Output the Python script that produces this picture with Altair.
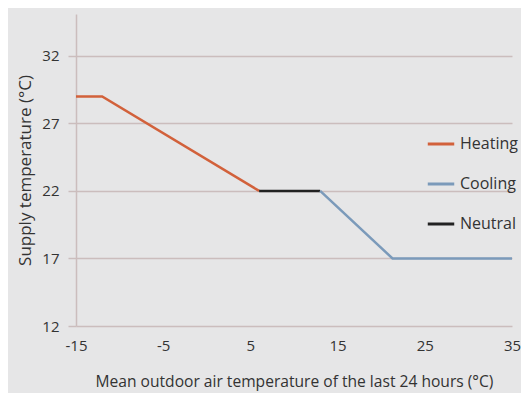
import altair as alt
import pandas as pd

series = ["Heating", "Heating", "Heating", "Neutral", "Neutral", "Cooling", "Cooling", "Cooling"]
outdoor = [-15, -12, 6, 6, 13, 13, 21.3, 35]
supply = [29, 29, 22, 22, 22, 22, 17, 17]
order = [0, 1, 2, 0, 1, 0, 1, 2]

legend_order = ["Heating", "Cooling", "Neutral"]
colors = ["#d2613b", "#7b9aba", "#222222"]

x_ticks = [-15, -5, 5, 15, 25, 35]
y_ticks = [12, 17, 22, 27, 32]

df = pd.DataFrame({"series": series, "outdoor": outdoor, "supply": supply, "order": order})

font = "Open Sans"
grid_col = "#cbbdbd"
text_col = "#333333"

chart = alt.Chart(df).mark_line(strokeWidth=2.5).encode(
    x=alt.X("outdoor:Q",
            scale=alt.Scale(domain=[-15, 35], nice=False, zero=False),
            axis=alt.Axis(values=x_ticks, title="Mean outdoor air temperature of the last 24 hours (°C)",
                          grid=False, ticks=False, domain=False, labelPadding=12,
                          titlePadding=21, titleFontSize=15.6, labelFlush=False,
                          labelExpr="toString(datum.value)")),
    y=alt.Y("supply:Q",
            scale=alt.Scale(domain=[12, 35.1], nice=False, zero=False),
            axis=alt.Axis(values=y_ticks, title="Supply temperature (°C)",
                          grid=True, ticks=True, tickSize=8, domain=True,
                          labelPadding=9, titlePadding=7, titleFontSize=17)),
    color=alt.Color("series:N",
                    scale=alt.Scale(domain=legend_order, range=colors),
                    legend=alt.Legend(title=None, orient="none", legendX=350, legendY=115,
                                      symbolType="stroke", symbolSize=700, symbolStrokeWidth=3,
                                      rowPadding=17, labelFontSize=16, labelFont=font,
                                      labelColor=text_col, labelOffset=4)),
    order="order:Q",
).properties(
    width=436, height=312,
    background="#e6e6e7",
    padding={"left": 68, "top": 6, "right": 9, "bottom": 67},
    autosize=alt.AutoSizeParams(type="none"),
).configure_view(stroke=None).configure_axis(
    labelFont=font, titleFont=font, labelFontSize=15,
    labelColor=text_col, titleColor=text_col, titleFontWeight="normal",
    gridColor=grid_col, gridWidth=1.5, tickColor=grid_col, tickWidth=1.5,
    domainColor=grid_col, domainWidth=1.5,
)

chart.save("out.html", embed_options={"renderer": "svg", "actions": False})
